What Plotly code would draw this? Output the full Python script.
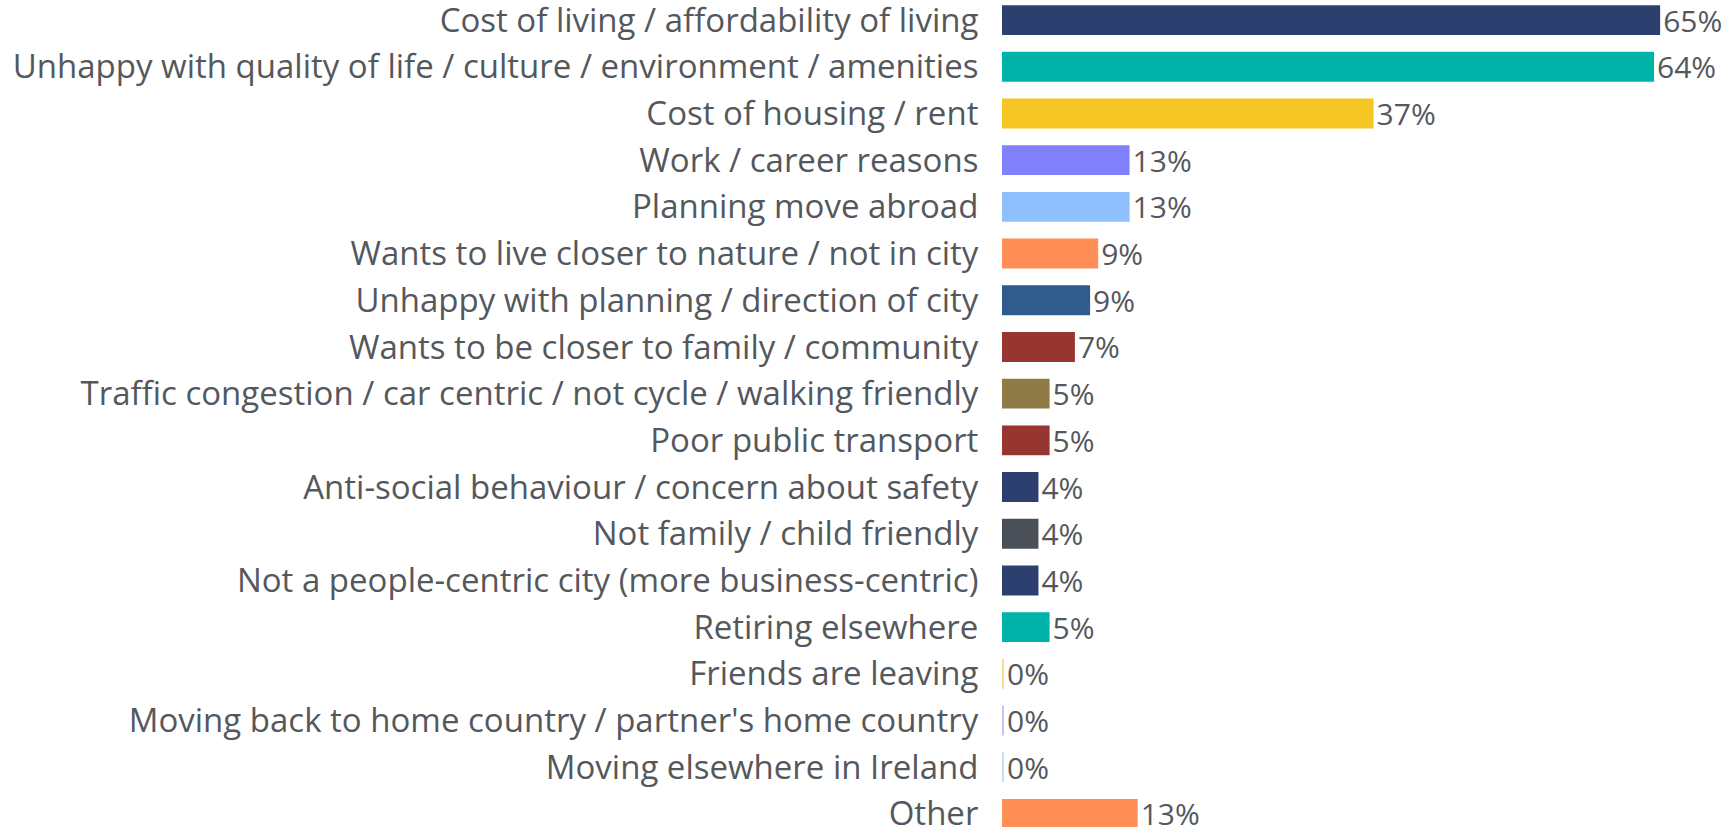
import plotly.graph_objects as go

categories = [
    "Cost of living / affordability of living",
    "Unhappy with quality of life / culture / environment / amenities",
    "Cost of housing / rent",
    "Work / career reasons",
    "Planning move abroad",
    "Wants to live closer to nature / not in city",
    "Unhappy with planning / direction of city",
    "Wants to be closer to family / community",
    "Traffic congestion / car centric / not cycle / walking friendly",
    "Poor public transport",
    "Anti-social behaviour / concern about safety",
    "Not family / child friendly",
    "Not a people-centric city (more business-centric)",
    "Retiring elsewhere",
    "Friends are leaving",
    "Moving back to home country / partner's home country",
    "Moving elsewhere in Ireland",
    "Other",
]
values = [65.0, 64.4, 36.7, 12.6, 12.6, 9.5, 8.7, 7.2, 4.7, 4.7, 3.6, 3.6, 3.6, 4.7, 0.2, 0.2, 0.2, 13.4]
value_labels = ["65%", "64%", "37%", "13%", "13%", "9%", "9%", "7%", "5%", "5%",
                "4%", "4%", "4%", "5%", "0%", "0%", "0%", "13%"]
colors = ["#2c3f6f", "#00b3a9", "#f5c523", "#8181fc", "#8fc0fd", "#ff8f57",
          "#2f5c8d", "#973530", "#8e7b45", "#973530", "#2c3f6f", "#4b5058",
          "#2c3f6f", "#00b3a9", "#f5dc8a", "#c6c6f5", "#c8dcf5", "#ff8f57"]

text_color = "#54585d"

fig = go.Figure(go.Bar(
    x=values,
    y=categories,
    orientation="h",
    marker=dict(color=colors, line=dict(width=0)),
    text=value_labels,
    textposition="outside",
    constraintext="none",
    textfont=dict(family="Open Sans", size=30, color=text_color),
    cliponaxis=False,
    width=0.64,
))

fig.update_layout(
    width=1730,
    height=827,
    margin=dict(l=1002, r=0, t=0, b=0, autoexpand=False),
    paper_bgcolor="white",
    plot_bgcolor="white",
    showlegend=False,
    font=dict(family="Open Sans", size=33, color=text_color),
    xaxis=dict(range=[0, 71.9], showgrid=False, zeroline=False,
               showticklabels=False, ticks="", automargin=False),
    yaxis=dict(type="category", categoryorder="array", categoryarray=categories,
               range=[17.28, -0.43], showgrid=False, zeroline=False, automargin=False,
               ticks="outside", ticklen=16, tickcolor="rgba(0,0,0,0)",
               tickfont=dict(family="Open Sans", size=33, color=text_color)),
)

fig.write_html("out.html", config={"displayModeBar": False},
               post_script="document.body.style.margin='0';document.body.style.overflow='hidden';")
